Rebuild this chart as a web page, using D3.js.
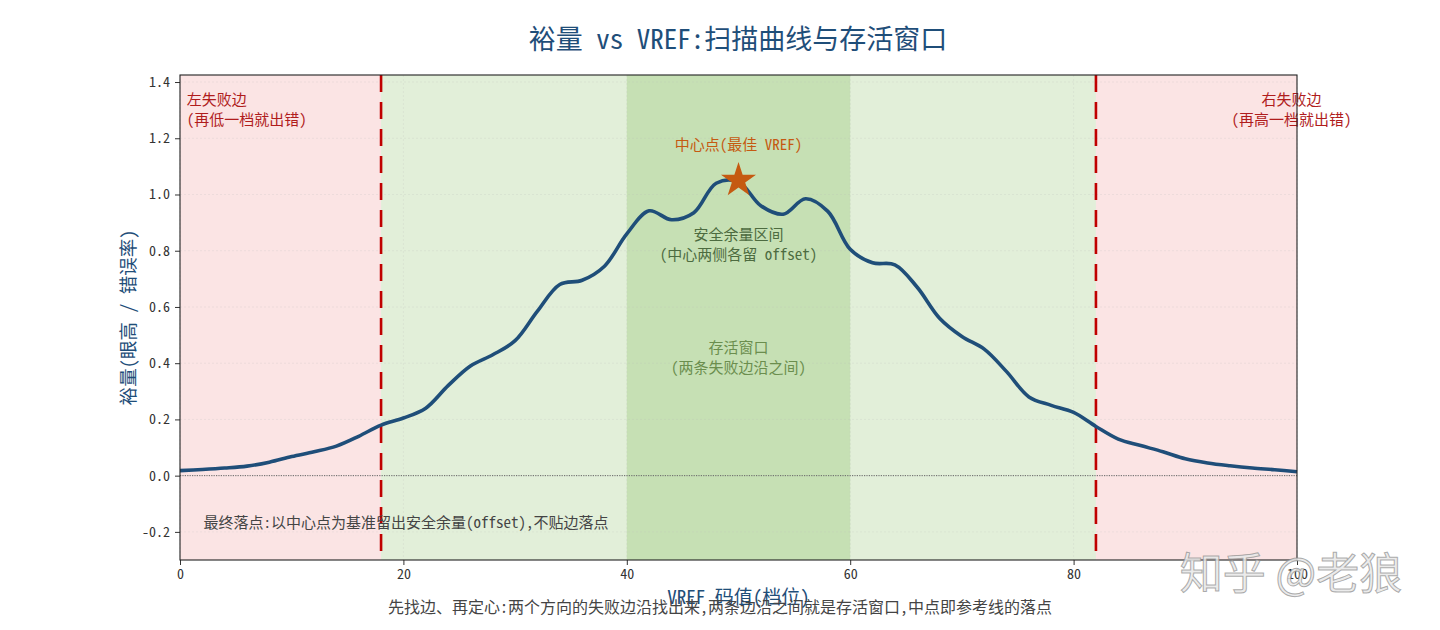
<!DOCTYPE html>
<html>
<head>
<meta charset="utf-8">
<script src="https://cdn.jsdelivr.net/npm/d3@7"></script>
<style>
  body { margin: 0; background: #fff; }
  svg text { font-family: "Noto Sans Mono CJK SC", "Noto Sans CJK SC", "DejaVu Sans Mono", sans-serif; }
</style>
</head>
<body>
<svg id="chart" width="1440" height="630"></svg>
<script>
// sweep data: VREF code vs margin
var vref_codes = [0, 2, 4, 6, 8, 10, 12, 14, 16, 18, 20, 22, 24, 26, 28, 30, 32, 34, 36, 38, 40,
                  42, 44, 46, 48, 50, 52, 54, 56, 58, 60, 62, 64, 66, 68, 70, 72, 74, 76, 78, 80,
                  82, 84, 86, 88, 90, 92, 94, 96, 98, 100];
var margin_values = [0.018, 0.022, 0.027, 0.034, 0.048, 0.068, 0.085, 0.105, 0.14, 0.18, 0.205,
                     0.24, 0.32, 0.39, 0.43, 0.48, 0.585, 0.68, 0.695, 0.745, 0.86,
                     0.942, 0.91, 0.935, 1.04, 1.045, 0.96, 0.93, 0.985, 0.94, 0.805,
                     0.757, 0.75, 0.67, 0.56, 0.495, 0.45, 0.37, 0.28, 0.25, 0.225,
                     0.175, 0.13, 0.107, 0.085, 0.06, 0.045, 0.035, 0.027, 0.021, 0.014];

var fail_edges = [18, 82];
var safe_zone = [40, 60];
var center_point = {x: 50, y: 1.05};

var x_ticks = [0, 20, 40, 60, 80, 100];
var y_ticks = [-0.2, 0, 0.2, 0.4, 0.6, 0.8, 1.0, 1.2, 1.4];

var title_text = "裕量 vs VREF:扫描曲线与存活窗口";
var x_label = "VREF 码值(档位)";
var y_label = "裕量(眼高 / 错误率)";
var caption_text = "先找边、再定心:两个方向的失败边沿找出来,两条边沿之间就是存活窗口,中点即参考线的落点";

// annotations: [x, y, lines, anchor, colour]
var notes = [
    [0.6, 1.341, ["左失败边", "(再低一档就出错)"], "start", "#b01c1c"],
    [99.5, 1.341, ["右失败边", "(再高一档就出错)"], "middle", "#b01c1c"],
    [50, 1.183, ["中心点(最佳 VREF)"], "middle", "#c55a11"],
    [50, 0.86, ["安全余量区间", "(中心两侧各留 offset)"], "middle", "#4d6b40"],
    [50, 0.458, ["存活窗口", "(两条失败边沿之间)"], "middle", "#6b8e4e"],
    [2.1, -0.163, ["最终落点:以中心点为基准留出安全余量(offset),不贴边落点"], "start", "#444"]
];

var svg = d3.select("#chart");
var plot_left = 180, plot_right = 1297, plot_top = 75, plot_bottom = 560;

var x = d3.scaleLinear().domain([0, 100]).range([plot_left, plot_right]);
var y = d3.scaleLinear().domain([-0.3, 1.425]).range([plot_bottom, plot_top]);

// background spans
var spans = [
    [0, fail_edges[0], "#fbe4e4"],
    [fail_edges[0], fail_edges[1], "#e2efd9"],
    [fail_edges[1], 100, "#fbe4e4"],
    [safe_zone[0], safe_zone[1], "#c6e0b4"]
];
svg.selectAll(".span_class")
    .data(spans)
    .enter().append("rect")
    .attr("class", "span_class")
    .attr("x", function(d) { return x(d[0]); })
    .attr("y", plot_top)
    .attr("width", function(d) { return x(d[1]) - x(d[0]); })
    .attr("height", plot_bottom - plot_top)
    .attr("fill", function(d) { return d[2]; });

// grid
svg.selectAll(".hgrid")
    .data(y_ticks)
    .enter().append("line")
    .attr("class", "hgrid")
    .attr("x1", plot_left).attr("x2", plot_right)
    .attr("y1", function(d) { return y(d); }).attr("y2", function(d) { return y(d); })
    .attr("stroke", "#b8b8b8").attr("stroke-opacity", 0.25)
    .attr("stroke-width", 0.8).attr("stroke-dasharray", "2,2");
svg.selectAll(".vgrid")
    .data(x_ticks)
    .enter().append("line")
    .attr("class", "vgrid")
    .attr("y1", plot_top).attr("y2", plot_bottom)
    .attr("x1", function(d) { return x(d); }).attr("x2", function(d) { return x(d); })
    .attr("stroke", "#b8b8b8").attr("stroke-opacity", 0.25)
    .attr("stroke-width", 0.8).attr("stroke-dasharray", "2,2");

// zero line
svg.append("line")
    .attr("x1", plot_left).attr("x2", plot_right)
    .attr("y1", y(0)).attr("y2", y(0))
    .attr("stroke", "#666").attr("stroke-width", 1)
    .attr("stroke-dasharray", "1.2,1.2");

// failure edges
svg.selectAll(".edge_class")
    .data(fail_edges)
    .enter().append("line")
    .attr("class", "edge_class")
    .attr("x1", function(d) { return x(d); }).attr("x2", function(d) { return x(d); })
    .attr("y1", plot_top).attr("y2", plot_bottom)
    .attr("stroke", "#c00000").attr("stroke-width", 2.6)
    .attr("stroke-dasharray", "17,10");

// sweep curve
var line = d3.line()
    .x(function(d, i) { return x(vref_codes[i]); })
    .y(function(d) { return y(d); })
    .curve(d3.curveCatmullRom.alpha(0.5));
svg.append("path")
    .datum(margin_values)
    .attr("d", line)
    .attr("fill", "none")
    .attr("stroke", "#1f4e79")
    .attr("stroke-width", 3.6)
    .attr("stroke-linejoin", "round");

// center star
svg.append("path")
    .attr("d", d3.symbol().type(d3.symbolStar).size(380)())
    .attr("transform", "translate(" + x(center_point.x) + "," + y(center_point.y) + ")")
    .attr("fill", "#c55a11");

// annotations
notes.forEach(function(n) {
    var t = svg.append("text")
        .attr("text-anchor", n[3])
        .attr("fill", n[4])
        .attr("font-size", 15);
    n[2].forEach(function(s, k) {
        t.append("tspan")
            .attr("x", x(n[0]))
            .attr("y", y(n[1]) + k * 20)
            .attr("dominant-baseline", "central")
            .text(s);
    });
});

// axes
var x_axis = svg.append("g")
    .attr("transform", "translate(0," + plot_bottom + ")")
    .call(d3.axisBottom(x).tickValues(x_ticks).tickSize(5).tickPadding(4).tickFormat(d3.format("d")));
var y_axis = svg.append("g")
    .attr("transform", "translate(" + plot_left + ",0)")
    .call(d3.axisLeft(y).tickValues(y_ticks).tickSize(5).tickPadding(5).tickFormat(function(d) { return d3.format(".1f")(d).replace("−", "-"); }));
[x_axis, y_axis].forEach(function(a) {
    a.selectAll("text").attr("font-size", 14).attr("fill", "#333")
        .style("font-family", "'Noto Sans Mono CJK SC', 'Noto Sans CJK SC', sans-serif");
    a.selectAll("line").attr("stroke", "#333");
    a.select(".domain").remove();
});

// frame
svg.append("rect")
    .attr("x", plot_left).attr("y", plot_top)
    .attr("width", plot_right - plot_left).attr("height", plot_bottom - plot_top)
    .attr("fill", "none").attr("stroke", "#222").attr("stroke-width", 1.1);

// titles and labels
svg.append("text")
    .attr("x", 738).attr("y", 37)
    .attr("text-anchor", "middle").attr("dominant-baseline", "central")
    .attr("font-size", 27).attr("fill", "#1f4e79")
    .text(title_text);
svg.append("text")
    .attr("x", (plot_left + plot_right) / 2).attr("y", 595)
    .attr("text-anchor", "middle").attr("dominant-baseline", "central")
    .attr("font-size", 19).attr("fill", "#1f4e79")
    .text(x_label);
svg.append("text")
    .attr("transform", "translate(127," + (plot_top + plot_bottom) / 2 + ") rotate(-90)")
    .attr("text-anchor", "middle").attr("dominant-baseline", "central")
    .attr("font-size", 18.5).attr("fill", "#1f4e79")
    .text(y_label);
svg.append("text")
    .attr("x", 720).attr("y", 606)
    .attr("text-anchor", "middle").attr("dominant-baseline", "central")
    .attr("font-size", 16).attr("fill", "#444")
    .text(caption_text);

// watermark
svg.append("text")
    .attr("x", 1291).attr("y", 570)
    .attr("text-anchor", "middle").attr("dominant-baseline", "central")
    .attr("font-size", 43).attr("fill", "#e8e8e8").attr("fill-opacity", 0.85)
    .attr("stroke", "#8a8a8a").attr("stroke-width", 1).attr("stroke-opacity", 0.7)
    .style("font-family", "'Noto Sans CJK SC', sans-serif")
    .text("知乎 @老狼");
</script>
</body>
</html>
